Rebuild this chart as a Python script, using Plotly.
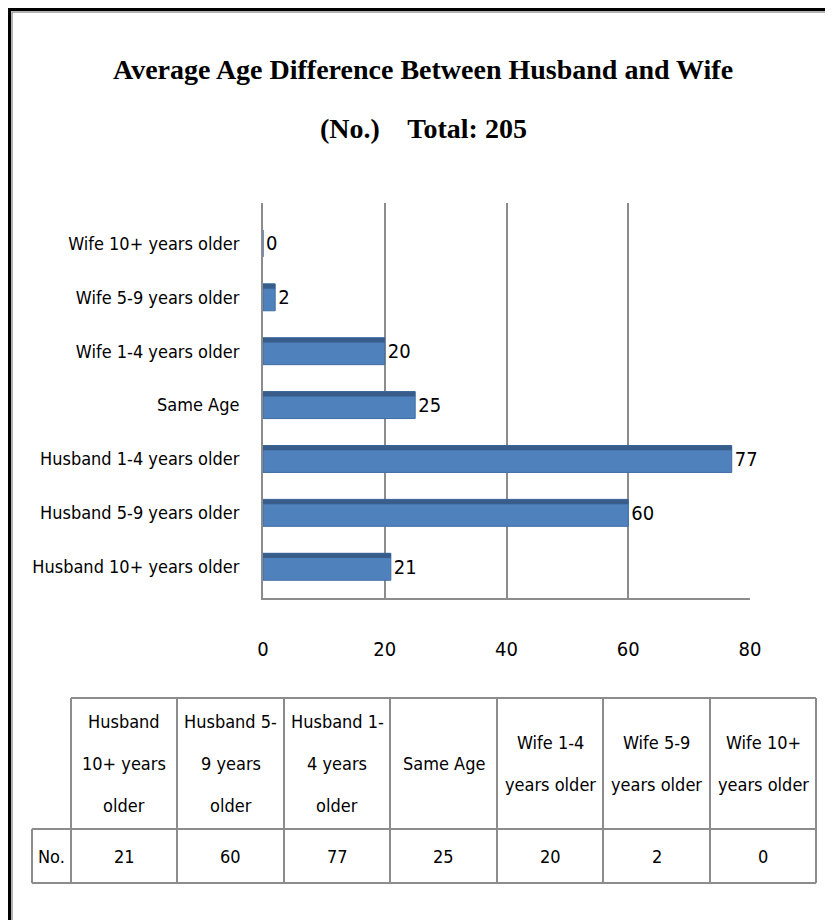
import plotly.graph_objects as go

# ---- data ----
categories = ["Husband 10+ years older", "Husband 5-9 years older", "Husband 1-4 years older",
              "Same Age", "Wife 1-4 years older", "Wife 5-9 years older", "Wife 10+ years older"]
values = [21, 60, 77, 25, 20, 2, 0]
x_ticks = [0, 20, 40, 60, 80]
table_headers = [["Husband", "10+ years", "older"], ["Husband 5-", "9 years", "older"],
                 ["Husband 1-", "4 years", "older"], ["Same Age"], ["Wife 1-4", "years older"],
                 ["Wife 5-9", "years older"], ["Wife 10+", "years older"]]
row_label = "No."
title_lines = ["Average Age Difference Between Husband and Wife", "(No.)    Total: 205"]

W, H = 833, 920
OFF = 8  # page body margin offset in the screenshot
NARROW = "Liberation Sans Narrow, DejaVu Sans Condensed, Arial Narrow, sans-serif"
SERIF = "Liberation Serif, Times New Roman, serif"
GRID = "#8c8c8c"
BAR = "#4F81BD"
BAR_DARK = "#385D8A"

def px(x):
    return (x - OFF) / W

def py(y):
    return 1 - (y - OFF) / H

fig = go.Figure()

# main bar face
fig.add_trace(go.Bar(
    y=categories, x=values, orientation="h",
    marker=dict(color=BAR, line=dict(color="#3F6DA5", width=1)),
    width=0.5, offset=-0.25,
    text=[str(v) for v in values], textposition="outside",
    textfont=dict(family=NARROW, size=20, color="#000000"),
    cliponaxis=False, showlegend=False, hoverinfo="skip",
))
# darker top bevel
fig.add_trace(go.Bar(
    y=categories, x=values, orientation="h",
    marker=dict(color=BAR_DARK, line=dict(width=0)),
    width=0.09, offset=0.16,
    showlegend=False, hoverinfo="skip",
))

fig.update_layout(
    width=W, height=H,
    margin=dict(l=0, r=0, t=0, b=0),
    paper_bgcolor="white", plot_bgcolor="white",
    barmode="overlay",
    xaxis=dict(
        domain=[px(263), px(750)], range=[0, 80], automargin=False,
        tickvals=x_ticks, ticktext=[str(t) for t in x_ticks],
        showgrid=True, gridcolor=GRID, gridwidth=1.5,
        zeroline=False, showline=True, linecolor=GRID, linewidth=2,
        ticks="", ticklabelstandoff=32,
        tickfont=dict(family=NARROW, size=20, color="#000000"),
        anchor="y",
    ),
    yaxis=dict(
        domain=[py(598), py(203)], range=[-0.58, 6.75], automargin=False,
        showgrid=False, zeroline=False, showline=True, linecolor=GRID, linewidth=2,
        ticks="", ticklabelstandoff=18,
        tickfont=dict(family=NARROW, size=18, color="#000000"),
        categoryorder="array", categoryarray=categories,
    ),
)

# title
title_y = [70, 128]
for t, yy in zip(title_lines, title_y):
    fig.add_annotation(text="<b>" + t + "</b>", x=px(423), y=py(yy), xref="paper", yref="paper",
                       showarrow=False, xanchor="center", yanchor="middle",
                       font=dict(family=SERIF, size=28, color="#000000"))

# outer frame (black outer line, grey inner line)
fig.add_shape(type="rect", xref="paper", yref="paper", x0=px(9.5), x1=px(860), y0=py(960), y1=py(9.5),
              line=dict(color="#000000", width=3), layer="above")
fig.add_shape(type="rect", xref="paper", yref="paper", x0=px(12), x1=px(860), y0=py(960), y1=py(12),
              line=dict(color="#999999", width=1.5), layer="above")

# ---- data table ----
col_edges = [71, 177, 284, 390, 497, 603, 710, 816]
tbl_left, tbl_top, tbl_mid, tbl_bot = 32, 698, 829, 883
TL = dict(color=GRID, width=2)

def hline(x0, x1, y):
    fig.add_shape(type="line", xref="paper", yref="paper", x0=px(x0), x1=px(x1), y0=py(y), y1=py(y), line=TL)

def vline(x, y0, y1):
    fig.add_shape(type="line", xref="paper", yref="paper", x0=px(x), x1=px(x), y0=py(y0), y1=py(y1), line=TL)

hline(col_edges[0], col_edges[-1], tbl_top)
hline(tbl_left, col_edges[-1], tbl_mid)
hline(tbl_left, col_edges[-1], tbl_bot)
vline(tbl_left, tbl_mid, tbl_bot)
for xe in col_edges:
    vline(xe, tbl_top, tbl_bot)

line_gap = 42
head_center = (tbl_top + tbl_mid) / 2
TFONT = dict(family=NARROW, size=18, color="#000000")
for i, lines in enumerate(table_headers):
    xc = (col_edges[i] + col_edges[i + 1]) / 2
    n = len(lines)
    for j, ln in enumerate(lines):
        yy = head_center + (j - (n - 1) / 2) * line_gap
        fig.add_annotation(text=ln, x=px(xc), y=py(yy), xref="paper", yref="paper",
                           showarrow=False, xanchor="center", yanchor="middle", font=TFONT)
    fig.add_annotation(text=str(values[i]), x=px(xc), y=py((tbl_mid + tbl_bot) / 2),
                       xref="paper", yref="paper", showarrow=False,
                       xanchor="center", yanchor="middle", font=TFONT)
fig.add_annotation(text=row_label, x=px((tbl_left + col_edges[0]) / 2), y=py((tbl_mid + tbl_bot) / 2),
                   xref="paper", yref="paper", showarrow=False,
                   xanchor="center", yanchor="middle", font=TFONT)

fig.write_html("out.html")
